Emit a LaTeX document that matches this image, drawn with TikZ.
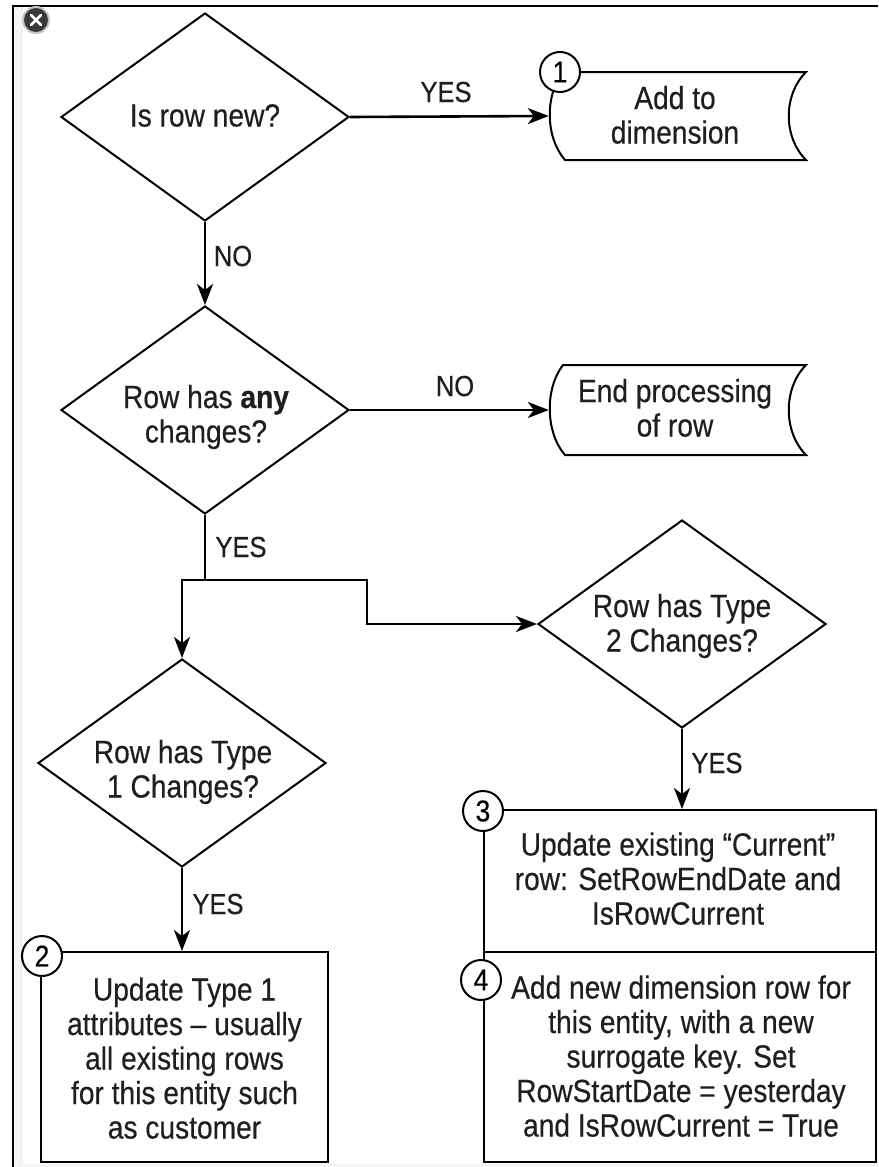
\documentclass[tikz,border=0pt]{standalone}
\usepackage{fontspec}
\setmainfont{Liberation Sans}[FakeStretch=0.88,FakeBold=0.4]
\usetikzlibrary{shapes.geometric,arrows.meta,calc}
\begin{document}
\begin{tikzpicture}[x=1pt,y=-1pt,
  txt/.style={font=\fontsize{32pt}{34.5pt}\selectfont, align=center, text height=23pt, text depth=8pt, inner sep=0pt, text=black!88},
  lbl/.style={font=\fontsize{29pt}{32pt}\selectfont, inner sep=0pt, anchor=base, text=black!88},
  dec/.style={draw, diamond, line width=2pt, minimum width=288pt, minimum height=208pt, aspect=1.385, inner sep=0pt},
  box/.style={draw, rectangle, line width=2pt, inner sep=0pt},
  num/.style={draw, circle, fill=white, line width=2pt, minimum size=40pt, inner sep=0pt, font=\fontsize{30pt}{30pt}\selectfont},
  conn/.style={line width=2.6pt, -{Stealth[length=21pt,width=16pt,inset=6pt]}},
  seg/.style={line width=2.6pt},
  outl/.style={line width=2pt},
]
\useasboundingbox (0,0) rectangle (878,1167);
\fill[white] (0,0) rectangle (878,1167);
\fill[gray!8] (14,7) rectangle (23,1167);
\fill[gray!8] (14,1164) rectangle (878,1167);
\draw[line width=1.5pt] (13,1167) -- (13,6) -- (878,6);
% close icon
\fill[gray!45] (36,20) circle (14);
\fill[black!78] (36,20) circle (12);
\draw[white, line width=2.6pt, line cap=round] (31,15) -- (41,25) (41,15) -- (31,25);

% decisions (text node: last baseline = centre + 8)
\node[dec] (d1) at (205,117) {};
\node[txt] (d1t) at (205,119) {Is row new?};
\node[dec] (d2) at (205,410) {};
\node[txt] (d2t) at (206,435) {Row has \textbf{any}\\changes?};
\node[dec] (d3) at (682,624) {};
\node[txt] (d3t) at (682,644) {Row has Type\\2 Changes?};
\node[dec] (d4) at (182,763) {};
\node[txt] (d4t) at (183,790) {Row has Type\\1 Changes?};

% stored data shapes
\node[minimum width=257pt, minimum height=88pt, inner sep=0pt] (add) at (677.5,116) {};
\draw[outl] (563,72) -- (806,72) .. controls (783,95) and (783,137) .. (806,160) -- (565,160) .. controls (545,137) and (545,95) .. cycle;
\node[txt] (addt) at (675,136) {Add to\\dimension};
\node[minimum width=257pt, minimum height=90pt, inner sep=0pt] (endp) at (677.5,410) {};
\draw[outl] (563,365) -- (806,365) .. controls (783,388) and (783,432) .. (806,455) -- (565,455) .. controls (545,432) and (545,388) .. cycle;
\node[txt] (endpt) at (675,429) {End processing\\of row};

% process boxes
\node[box, minimum width=287pt, minimum height=210pt] (b2) at (184.5,1057) {};
\node[txt] (b2t) at (184.5,1131) {Update Type 1\\attributes – usually\\all existing rows\\for this entity such\\as customer};
\node[box, minimum width=392pt, minimum height=142pt] (b3) at (680,881) {};
\node[txt] (b3t) at (678,917) {Update existing “Current”\\row: SetRowEndDate and\\IsRowCurrent};
\node[box, minimum width=392pt, minimum height=210pt] (b4) at (680,1057) {};
\node[txt] (b4t) at (681,1129) {Add new dimension row for\\this entity, with a new\\surrogate key. Set\\RowStartDate = yesterday\\and IsRowCurrent = True};

% numbers
\node[num] (n1) at (560,72) {1};
\node[num] (n2) at (42,956) {2};
\node[num] (n3) at (483,811) {3};
\node[num] (n4) at (481,980) {4};

% connectors
\draw[conn] (d1.east) -- (add.west);
\draw[conn] (d1.south) -- (d2.north);
\draw[conn] (d2.east) -- (endp.west);
\coordinate (jm) at (205,580);
\coordinate (jl) at (182,580);
\coordinate (jr) at (367,580);
\draw[seg] (d2.south) -- (jm);
\draw[conn] (jm) -- (jl) -- (d4.north);
\draw[conn] (jm) -- (jr) |- (d3.west);
\draw[conn] (d3.south) -- (d3.south |- b3.north);
\draw[conn] (d4.south) -- (d4.south |- b2.north);

% labels
\node[lbl] (l1) at (446,102) {YES};
\node[lbl] (l2) at (233,266) {NO};
\node[lbl] (l3) at (455,396) {NO};
\node[lbl] (l4) at (241,557) {YES};
\node[lbl] (l5) at (717,773) {YES};
\node[lbl] (l6) at (218,914) {YES};
\end{tikzpicture}
\end{document}
